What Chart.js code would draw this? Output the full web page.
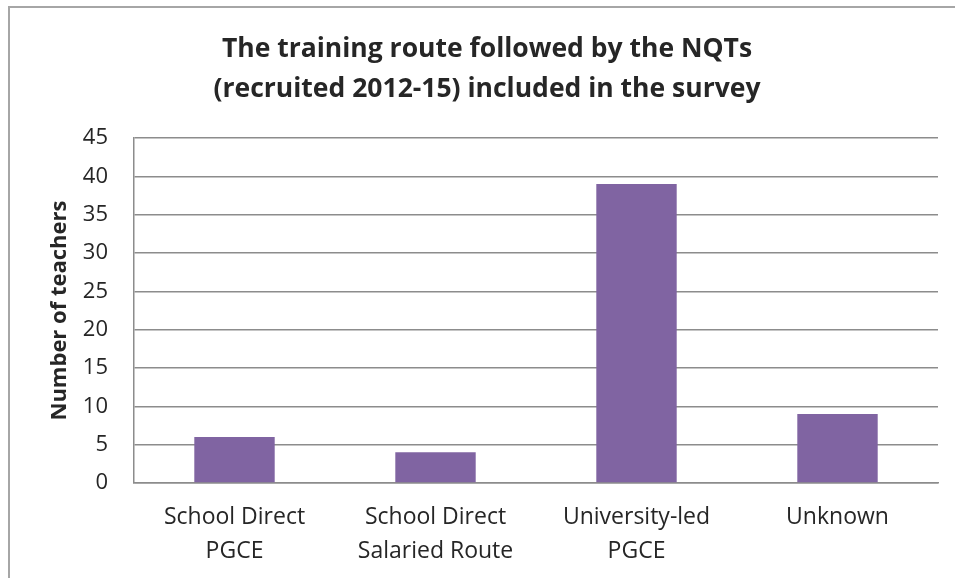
<!DOCTYPE html>
<html>
<head>
<meta charset="utf-8">
<script src="https://cdn.jsdelivr.net/npm/chart.js@4"></script>
<style>
  html, body { margin: 0; padding: 0; background: #fff; overflow: hidden; }
  #frame {
    position: absolute; left: 8px; top: 6px; width: 1000px; height: 700px;
    border: 2px solid #a6a6a6; box-sizing: border-box;
  }
  #wrap { position: absolute; left: 0; top: 0; width: 955px; height: 578px; }
</style>
</head>
<body>
<div id="frame"></div>
<div id="wrap"><canvas id="routeChart" width="955" height="578"></canvas></div>
<script>
// Training routes of the NQTs (recruited 2012-15)
const categories = [
    ['School Direct', 'PGCE'],
    ['School Direct', 'Salaried Route'],
    ['University-led', 'PGCE'],
    ['Unknown']
];
const teacherCounts = [6, 4, 39, 9];
const yTicks = [0, 5, 10, 15, 20, 25, 30, 35, 40, 45];

const titleLines = [
    'The training route followed by the NQTs',
    '(recruited 2012-15) included in the survey'
];

const fontFamily = '"Open Sans", Lato, sans-serif';
const textColor = '#262626';
const gridColor = '#8c8c8c';

document.addEventListener('DOMContentLoaded', function() {
    const ctx = document.getElementById('routeChart').getContext('2d');
    new Chart(ctx, {
        type: 'bar',
        data: {
            labels: categories,
            datasets: [{
                label: 'Number of teachers',
                data: teacherCounts,
                backgroundColor: '#8064a2',
                borderWidth: 0,
                categoryPercentage: 1,
                barPercentage: 0.4
            }]
        },
        options: {
            responsive: false,
            animation: false,
            layout: { padding: { left: 36, right: 17, top: 0, bottom: 0 } },
            plugins: {
                legend: { display: false },
                tooltip: { enabled: false },
                title: {
                    display: true,
                    text: titleLines,
                    color: textColor,
                    font: { family: fontFamily, size: 26.5, weight: 'bold', lineHeight: 1.51 },
                    padding: { top: 29, bottom: 29 }
                }
            },
            scales: {
                x: {
                    grid: { display: false, drawTicks: false },
                    border: { display: true, color: gridColor, width: 1.5 },
                    ticks: {
                        color: textColor,
                        font: { family: fontFamily, size: 23, lineHeight: 1.45 },
                        padding: 18,
                        maxRotation: 0,
                        autoSkip: false
                    },
                    afterFit: function(scale) { scale.height = 95; }
                },
                y: {
                    min: 0,
                    max: 45,
                    afterBuildTicks: function(scale) {
                        scale.ticks = yTicks.map(v => ({ value: v }));
                    },
                    grid: { color: gridColor, lineWidth: 1.5, drawTicks: false },
                    border: { display: true, color: gridColor, width: 1.5 },
                    ticks: {
                        color: textColor,
                        font: { family: fontFamily, size: 22 },
                        padding: 26
                    },
                    title: {
                        display: true,
                        text: 'Number of teachers',
                        color: textColor,
                        font: { family: fontFamily, size: 22, weight: 'bold', lineHeight: 1.2 },
                        padding: { top: 11, bottom: 0 }
                    },
                    afterFit: function(scale) { scale.width = 98; }
                }
            }
        }
    });
});
</script>
</body>
</html>
